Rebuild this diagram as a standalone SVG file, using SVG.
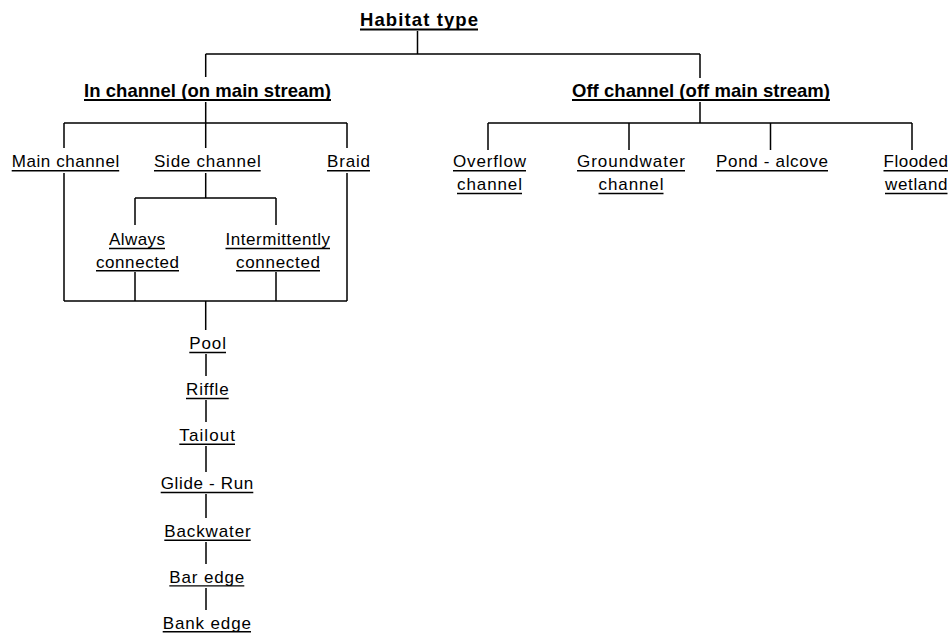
<svg xmlns="http://www.w3.org/2000/svg" width="951" height="634" viewBox="0 0 951 634">
<style>
  text { font-family: "Liberation Sans", Arial, sans-serif; fill: #000; }
  .b { font-weight: bold; font-size: 18.5px; }
  .r { font-size: 17px; }
  .ul { stroke: #000; stroke-width: 1.4; }
  .ulb { stroke: #000; stroke-width: 2; }
  #connectors path { fill: none; stroke: #000; stroke-width: 1.5; }
</style>
<rect width="951" height="634" fill="#fff"/>
<g id="connectors">
  <path d="M417.5 31V54M205.7 54H700M205.7 54V77M700 54V78"/>
  <path d="M205.7 102V123M700 102V123M64 123H347M488 123H912"/>
  <path d="M64 123V148M205.7 123V148M347 123V148M488 123V150M629 123V150M770.5 123V150M912 123V150"/>
  <path d="M64 173V301M347 173V301M205.7 173V198M135 198H276M135 198V225M276 198V225"/>
  <path d="M135 272V301M276 272V301M64 301H347M205.7 301V330"/>
  <path d="M206 354V376M206 400V422M206 446V472M206 494V518M206 542V564M206 588V610"/>
</g>
<g id="habitat-type">
  <text class="b" x="360" y="26" textLength="118" lengthAdjust="spacing">Habitat type</text>
  <line class="ulb" x1="360" y1="29.5" x2="478" y2="29.5"/>
</g>
<g id="in-channel">
  <text class="b" x="84" y="97" textLength="247" lengthAdjust="spacing">In channel (on main stream)</text>
  <line class="ulb" x1="84" y1="100" x2="331" y2="100"/>
</g>
<g id="off-channel">
  <text class="b" x="572" y="97" textLength="258" lengthAdjust="spacing">Off channel (off main stream)</text>
  <line class="ulb" x1="572" y1="100" x2="830" y2="100"/>
</g>
<g id="main-channel">
  <text class="r" x="11.7" y="167" textLength="107.5" lengthAdjust="spacing">Main channel</text>
  <line class="ul" x1="11.7" y1="170.7" x2="119.2" y2="170.7"/>
</g>
<g id="side-channel">
  <text class="r" x="154" y="167" textLength="106.7" lengthAdjust="spacing">Side channel</text>
  <line class="ul" x1="154" y1="170.7" x2="260.7" y2="170.7"/>
</g>
<g id="braid">
  <text class="r" x="327" y="167" textLength="43" lengthAdjust="spacing">Braid</text>
  <line class="ul" x1="327" y1="170.7" x2="370" y2="170.7"/>
</g>
<g id="overflow-channel">
  <text class="r" x="453" y="167" textLength="73" lengthAdjust="spacing">Overflow</text>
  <line class="ul" x1="453" y1="170.7" x2="526" y2="170.7"/>
  <text class="r" x="457" y="190" textLength="65" lengthAdjust="spacing">channel</text>
  <line class="ul" x1="457" y1="193.5" x2="522" y2="193.5"/>
</g>
<g id="groundwater-channel">
  <text class="r" x="577" y="167" textLength="108" lengthAdjust="spacing">Groundwater</text>
  <line class="ul" x1="577" y1="170.7" x2="685" y2="170.7"/>
  <text class="r" x="598.5" y="190" textLength="65" lengthAdjust="spacing">channel</text>
  <line class="ul" x1="598.5" y1="193.5" x2="663.5" y2="193.5"/>
</g>
<g id="pond-alcove">
  <text class="r" x="716" y="167" textLength="112" lengthAdjust="spacing">Pond - alcove</text>
  <line class="ul" x1="716" y1="170.7" x2="828" y2="170.7"/>
</g>
<g id="flooded-wetland">
  <text class="r" x="883.5" y="167" textLength="64.5" lengthAdjust="spacing">Flooded</text>
  <line class="ul" x1="883.5" y1="170.7" x2="948" y2="170.7"/>
  <text class="r" x="885" y="190" textLength="62.5" lengthAdjust="spacing">wetland</text>
  <line class="ul" x1="885" y1="193.5" x2="947.5" y2="193.5"/>
</g>
<g id="always-connected">
  <text class="r" x="109" y="245" textLength="56" lengthAdjust="spacing">Always</text>
  <line class="ul" x1="109" y1="248.5" x2="165" y2="248.5"/>
  <text class="r" x="96" y="267.5" textLength="83" lengthAdjust="spacing">connected</text>
  <line class="ul" x1="96" y1="270.7" x2="179" y2="270.7"/>
</g>
<g id="intermittently-connected">
  <text class="r" x="225.5" y="245" textLength="104.5" lengthAdjust="spacing">Intermittently</text>
  <line class="ul" x1="225.5" y1="248.5" x2="330" y2="248.5"/>
  <text class="r" x="236" y="267.5" textLength="84" lengthAdjust="spacing">connected</text>
  <line class="ul" x1="236" y1="270.7" x2="320" y2="270.7"/>
</g>
<g id="pool">
  <text class="r" x="189.3" y="349.3" textLength="36.7" lengthAdjust="spacing">Pool</text>
  <line class="ul" x1="189.3" y1="352.5" x2="226" y2="352.5"/>
</g>
<g id="riffle">
  <text class="r" x="186" y="395.3" textLength="42.7" lengthAdjust="spacing">Riffle</text>
  <line class="ul" x1="186" y1="398.5" x2="228.7" y2="398.5"/>
</g>
<g id="tailout">
  <text class="r" x="179.3" y="441" textLength="55.7" lengthAdjust="spacing">Tailout</text>
  <line class="ul" x1="179.3" y1="444.2" x2="235" y2="444.2"/>
</g>
<g id="glide-run">
  <text class="r" x="160.7" y="489.3" textLength="92.6" lengthAdjust="spacing">Glide - Run</text>
  <line class="ul" x1="160.7" y1="492.5" x2="253.3" y2="492.5"/>
</g>
<g id="backwater">
  <text class="r" x="164.3" y="537" textLength="86.4" lengthAdjust="spacing">Backwater</text>
  <line class="ul" x1="164.3" y1="540.2" x2="250.7" y2="540.2"/>
</g>
<g id="bar-edge">
  <text class="r" x="169.3" y="582.7" textLength="75" lengthAdjust="spacing">Bar edge</text>
  <line class="ul" x1="169.3" y1="585.9" x2="244.3" y2="585.9"/>
</g>
<g id="bank-edge">
  <text class="r" x="162.7" y="628.5" textLength="88.3" lengthAdjust="spacing">Bank edge</text>
  <line class="ul" x1="162.7" y1="631.7" x2="251" y2="631.7"/>
</g>
</svg>
